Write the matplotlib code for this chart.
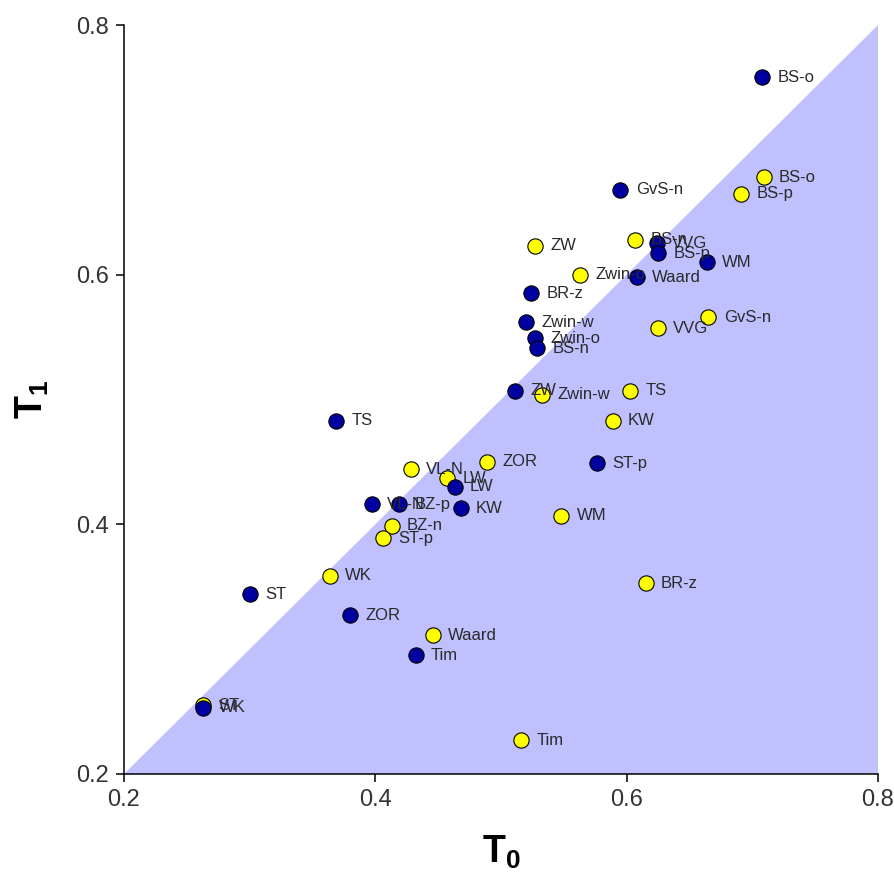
import matplotlib
matplotlib.use("Agg")
import matplotlib.pyplot as plt

plt.rcParams['font.family'] = ['Liberation Sans', 'DejaVu Sans']
plt.rcParams['mathtext.fontset'] = 'custom'
plt.rcParams['mathtext.rm'] = 'Liberation Sans'
plt.rcParams['mathtext.bf'] = 'Liberation Sans:bold'

# blue series (T0, T1)
blue_labels = ["BS-o", "GvS-n", "VVG", "BS-p", "WM", "Waard", "BR-z", "Zwin-w",
               "Zwin-o", "BS-n", "ZW", "TS", "ST-p", "LW", "KW", "VL-N", "BZ-p",
               "ST", "ZOR", "Tim", "WK"]
blue_t0 = [0.708, 0.595, 0.624, 0.625, 0.664, 0.608, 0.524, 0.520,
           0.527, 0.529, 0.511, 0.369, 0.576, 0.463, 0.468, 0.397, 0.419,
           0.300, 0.380, 0.432, 0.263]
blue_t1 = [0.758, 0.668, 0.625, 0.617, 0.610, 0.598, 0.585, 0.562,
           0.549, 0.541, 0.507, 0.483, 0.449, 0.430, 0.413, 0.416, 0.416,
           0.344, 0.327, 0.295, 0.253]

# yellow series (T0, T1)
yellow_labels = ["BS-o", "BS-p", "BS-n", "ZW", "Zwin-o", "GvS-n", "VVG", "Zwin-w",
                 "TS", "KW", "ZOR", "VL-N", "LW", "WM", "BZ-n", "ST-p", "WK",
                 "BR-z", "Waard", "Tim", "ST"]
yellow_t0 = [0.709, 0.691, 0.607, 0.527, 0.563, 0.665, 0.625, 0.533,
             0.603, 0.589, 0.489, 0.428, 0.457, 0.548, 0.413, 0.406, 0.364,
             0.615, 0.446, 0.516, 0.263]
yellow_t1 = [0.678, 0.665, 0.628, 0.623, 0.600, 0.566, 0.557, 0.504,
             0.507, 0.483, 0.450, 0.444, 0.437, 0.407, 0.399, 0.389, 0.359,
             0.353, 0.311, 0.227, 0.255]

lo, hi = 0.2, 0.8
ticks = [0.2, 0.4, 0.6, 0.8]

fig = plt.figure(figsize=(8.94, 8.72), dpi=100)
ax = fig.add_axes([0.1387, 0.1124, 0.8434, 0.8589])

# shaded region below the 1:1 line
ax.fill([lo, hi, hi], [lo, hi, lo], color='#c0c0ff', lw=0, zorder=0)

ax.plot(yellow_t0, yellow_t1, 'o', ms=11, mfc='#ffff00', mec='black', mew=0.8, zorder=3)
ax.plot(blue_t0, blue_t1, 'o', ms=11, mfc='#0000a0', mec='black', mew=0.8, zorder=4)

for x, y, s in zip(yellow_t0, yellow_t1, yellow_labels):
    ax.annotate(s, (x, y), xytext=(11, 0), textcoords='offset points',
                va='center', ha='left', fontsize=12, color='#2a2a2a', zorder=5)
for x, y, s in zip(blue_t0, blue_t1, blue_labels):
    ax.annotate(s, (x, y), xytext=(11, 0), textcoords='offset points',
                va='center', ha='left', fontsize=12, color='#2a2a2a', zorder=5)

ax.set_xlim(lo, hi)
ax.set_ylim(lo, hi)
ax.set_xticks(ticks)
ax.set_yticks(ticks)
ax.set_xticklabels([f"{t:.1f}" for t in ticks])
ax.set_yticklabels([f"{t:.1f}" for t in ticks])
ax.tick_params(direction='out', length=6, width=1.1, labelsize=17,
               labelcolor='#333333', pad=5)
for side in ['top', 'right']:
    ax.spines[side].set_visible(False)
for side in ['left', 'bottom']:
    ax.spines[side].set_linewidth(1.1)

ax.set_xlabel(r"$\mathbf{T_0}$", fontsize=27, labelpad=16)
ax.set_ylabel(r"$\mathbf{T_1}$", fontsize=27, labelpad=18)

fig.savefig("out.png", dpi=100)
